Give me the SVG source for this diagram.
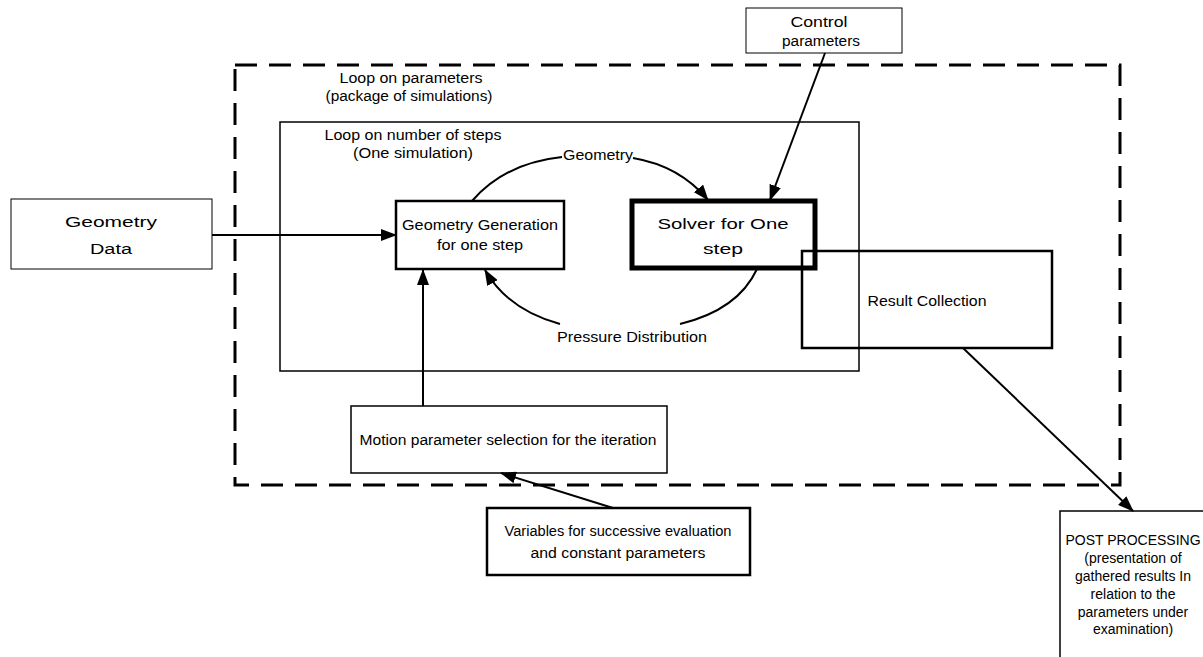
<svg xmlns="http://www.w3.org/2000/svg" width="1203" height="657" viewBox="0 0 1203 657">
  <style>
    .box { fill: none; stroke: #000; }
    .t { font-family: "Liberation Sans", Arial, sans-serif; font-size: 14px; fill: #000; text-anchor: middle; }
    .c { fill: none; stroke: #000; stroke-width: 2; }
  </style>
  <defs>
    <marker id="arrow" markerUnits="userSpaceOnUse" markerWidth="16" markerHeight="12" refX="15" refY="6" orient="auto">
      <path d="M0,0 L16,6 L0,12 Z" fill="#000"/>
    </marker>
  </defs>
  <rect width="1203" height="657" fill="#fff"/>

  <!-- outer loop: parameters -->
  <g id="loop-parameters">
    <rect class="box" x="235" y="65" width="885" height="420" stroke-width="3" stroke-dasharray="22 12"/>
    <text class="t" x="411" y="83" textLength="143" lengthAdjust="spacingAndGlyphs">Loop on parameters</text>
    <text class="t" x="409" y="101" textLength="167" lengthAdjust="spacingAndGlyphs">(package of simulations)</text>
  </g>

  <!-- inner loop: steps -->
  <g id="loop-steps">
    <rect class="box" x="280" y="122" width="579" height="249" stroke-width="1.5"/>
    <text class="t" x="413" y="140" textLength="177" lengthAdjust="spacingAndGlyphs">Loop on number of steps</text>
    <text class="t" x="413" y="158" textLength="120" lengthAdjust="spacingAndGlyphs">(One simulation)</text>
  </g>

  <g id="geometry-data">
    <rect class="box" x="11" y="199" width="201" height="70" stroke-width="1"/>
    <text class="t" x="111" y="227" font-size="18" textLength="92" lengthAdjust="spacingAndGlyphs">Geometry</text>
    <text class="t" x="111" y="254" font-size="18" textLength="42" lengthAdjust="spacingAndGlyphs">Data</text>
  </g>

  <g id="geometry-generation">
    <rect class="box" x="396" y="201" width="168" height="68" stroke-width="2.5"/>
    <text class="t" x="480" y="230" textLength="156" lengthAdjust="spacingAndGlyphs">Geometry Generation</text>
    <text class="t" x="480" y="250" textLength="86" lengthAdjust="spacingAndGlyphs">for one step</text>
  </g>

  <g id="solver">
    <rect class="box" x="632" y="201" width="183" height="67" stroke-width="5"/>
    <text class="t" x="723" y="229" font-size="20" textLength="131" lengthAdjust="spacingAndGlyphs">Solver for One</text>
    <text class="t" x="723" y="254" font-size="20" textLength="40" lengthAdjust="spacingAndGlyphs">step</text>
  </g>

  <g id="result-collection">
    <rect class="box" x="802" y="251" width="250" height="97" stroke-width="2.5"/>
    <text class="t" x="927" y="306" textLength="119" lengthAdjust="spacingAndGlyphs">Result Collection</text>
  </g>

  <g id="control-parameters">
    <rect class="box" x="746" y="8" width="156" height="45" stroke-width="1"/>
    <text class="t" x="819" y="27" textLength="57" lengthAdjust="spacingAndGlyphs">Control</text>
    <text class="t" x="821" y="46" textLength="78" lengthAdjust="spacingAndGlyphs">parameters</text>
  </g>

  <g id="motion-parameters">
    <rect class="box" x="351" y="406" width="316" height="67" stroke-width="1.5"/>
    <text class="t" x="508" y="445" textLength="297" lengthAdjust="spacingAndGlyphs">Motion parameter selection for the iteration</text>
  </g>

  <g id="variables">
    <rect class="box" x="487" y="508" width="263" height="67" stroke-width="2.5"/>
    <text class="t" x="618" y="536" textLength="227" lengthAdjust="spacingAndGlyphs">Variables for successive evaluation</text>
    <text class="t" x="618" y="558" textLength="175" lengthAdjust="spacingAndGlyphs">and constant parameters</text>
  </g>

  <!-- box runs past the right and bottom edges of the sheet -->
  <g id="post-processing">
    <path class="box" d="M1203,511 H1060 V657" stroke-width="1.5"/>
    <text class="t" x="1133" y="545" font-size="11">POST PROCESSING</text>
    <text class="t" x="1133" y="563" font-size="12.5">(presentation of</text>
    <text class="t" x="1133" y="581" font-size="12.5">gathered results In</text>
    <text class="t" x="1133" y="599" font-size="12.5">relation to the</text>
    <text class="t" x="1133" y="617" font-size="12.5">parameters under</text>
    <text class="t" x="1133" y="634" font-size="12.5">examination)</text>
  </g>

  <g id="connectors">
    <path class="c" d="M212,235 L396,235" marker-end="url(#arrow)"/>
    <path class="c" d="M423,406 L423,270" marker-end="url(#arrow)"/>
    <path class="c" d="M613,508 L501,473" marker-end="url(#arrow)"/>
    <path class="c" d="M825,53 L770,200" marker-end="url(#arrow)"/>
    <path class="c" d="M963,348 L1133,511" marker-end="url(#arrow)"/>
    <!-- geometry hand-over arc -->
    <path class="c" d="M472,201 Q505,163 562,157"/>
    <path class="c" d="M633,158 Q680,166 708,200" marker-end="url(#arrow)"/>
    <text class="t" x="598" y="160" textLength="70" lengthAdjust="spacingAndGlyphs">Geometry</text>
    <!-- pressure feedback arc -->
    <path class="c" d="M757,269 Q738,310 680,324"/>
    <path class="c" d="M560,324 Q508,310 485,270" marker-end="url(#arrow)"/>
    <text class="t" x="632" y="342" textLength="150" lengthAdjust="spacingAndGlyphs">Pressure Distribution</text>
  </g>
</svg>
